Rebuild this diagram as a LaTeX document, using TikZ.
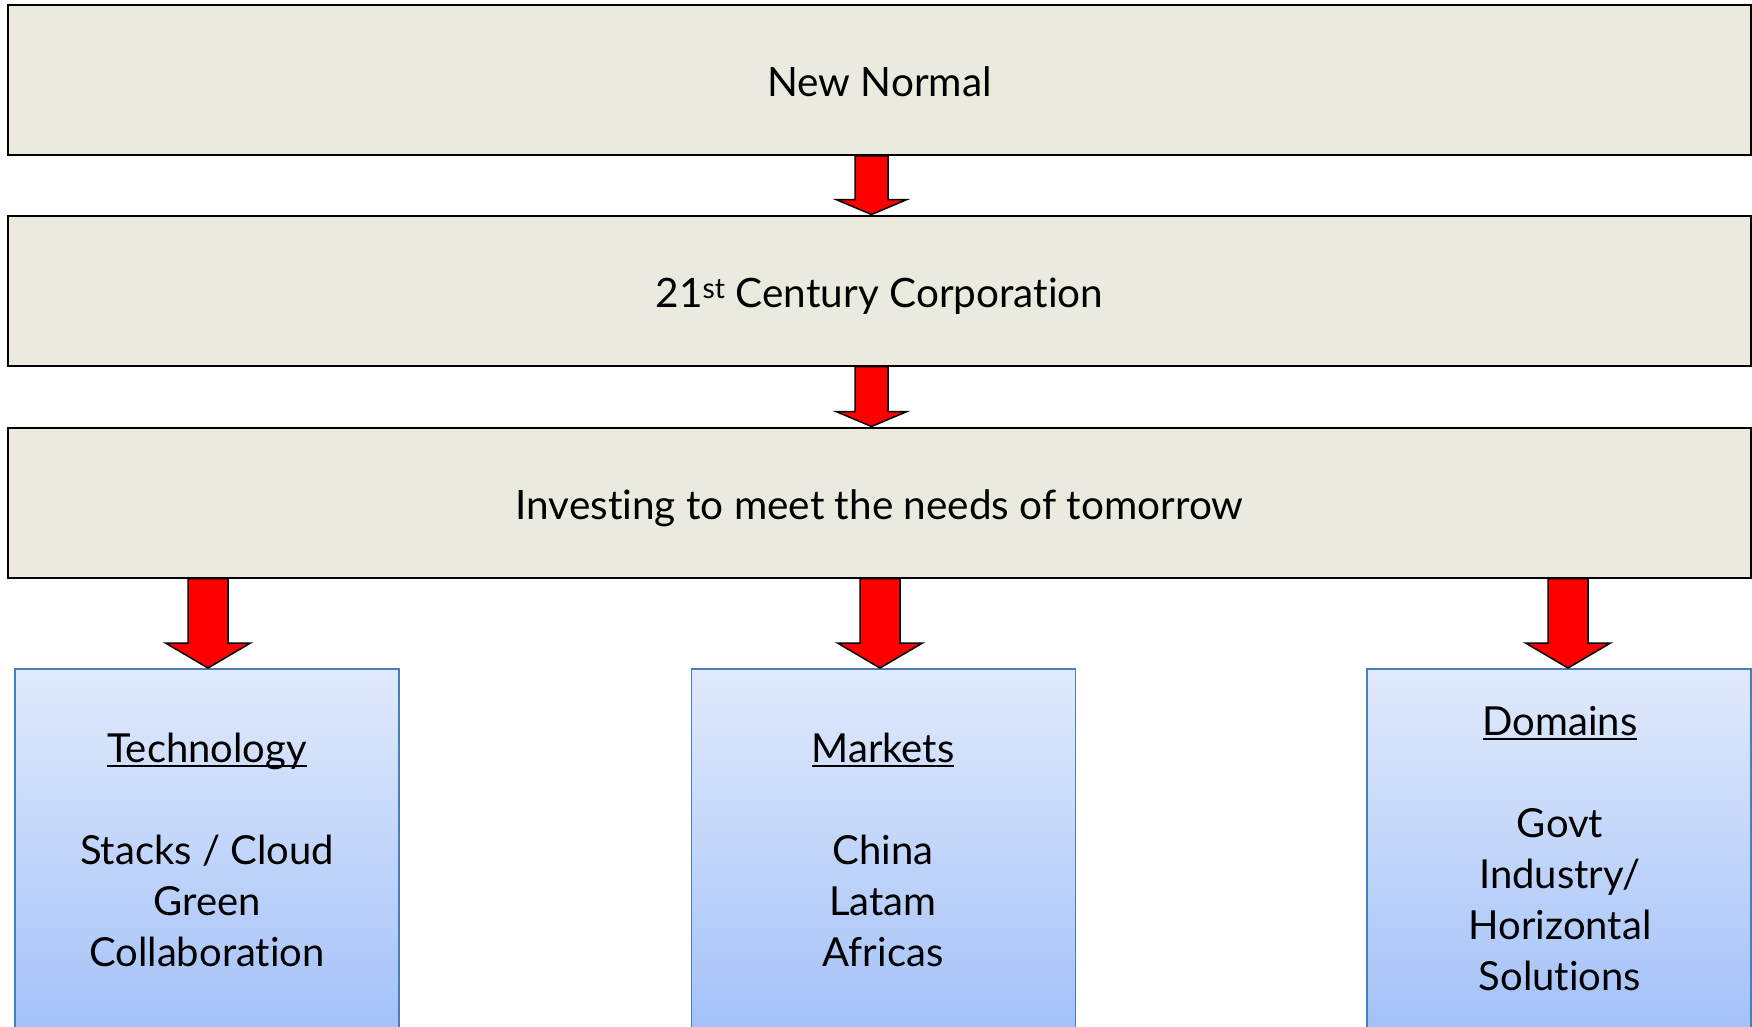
\documentclass[tikz,border=0pt]{standalone}
\usepackage{fontspec}
\setmainfont{Lato}[RawFeature=-liga]
\usetikzlibrary{calc}
\definecolor{beige}{RGB}{236,234,223}
\definecolor{boxblue}{RGB}{74,126,187}
\definecolor{lighttop}{RGB}{225,234,252}
\definecolor{darkbot}{RGB}{158,190,248}
\newcommand\undl[1]{\leavevmode\setbox0\hbox{#1}\rlap{\rule[-5pt]{\wd0}{2pt}}\box0}
\newcommand\blkarrow[6]{% #1 from, #2 to, #3 x, #4 half shaft, #5 half head, #6 head length
  \draw[redarrow] let \p1=(#1.south), \p2=(#2.north) in
  ({#3pt-#4pt},\y1) -- ({#3pt+#4pt},\y1) -- ({#3pt+#4pt},{\y2+#6pt}) -- ({#3pt+#5pt},{\y2+#6pt})
  -- (#3pt,\y2) -- ({#3pt-#5pt},{\y2+#6pt}) -- ({#3pt-#4pt},{\y2+#6pt}) -- cycle;}
\tikzset{
  topbox/.style={draw=black, line width=2pt, fill=beige, minimum width=1743pt, minimum height=150pt,
    inner sep=0pt, font=\fontsize{40.5}{48}\selectfont, text height=34pt, text depth=0pt},
  botbox/.style={draw=boxblue, line width=1.8pt, top color=lighttop, bottom color=darkbot,
    minimum width=384pt, minimum height=390pt, anchor=north, inner sep=0pt},
  bottext/.style={font=\fontsize{40}{51}\selectfont, align=center, anchor=base, inner sep=0pt},
  redarrow/.style={draw=black, line width=1.5pt, fill=red, line join=miter}
}
\begin{document}
\begin{tikzpicture}[x=1pt,y=-1pt]
\useasboundingbox (0,0) rectangle (1752,1027);
\clip (0,0) rectangle (1752,1027);
\fill[white] (0,0) rectangle (1752,1027);
\node[topbox] (nn) at (879.5,80) {New Normal};
\node[topbox] (cc) at (879.5,290.5) {21\textsuperscript{st} Century Corporation};
\node[topbox] (inv) at (879.5,502.5) {Investing to meet the needs of tomorrow};
\node[botbox] (tech) at (207,668) {};
\node[botbox] (mkt) at (883.5,668) {};
\node[botbox] (dom) at (1559,668) {};
\blkarrow{nn}{cc}{871.5}{16.5}{35.5}{15}
\blkarrow{cc}{inv}{871.5}{16.5}{35.5}{15}
\blkarrow{inv}{tech}{208}{20}{42.5}{25}
\blkarrow{inv}{mkt}{880}{20}{42.5}{25}
\blkarrow{inv}{dom}{1568}{20}{42.5}{25}
\node[bottext] (techtxt) at (207,966) {\undl{Technology}\\[51pt]Stacks / Cloud\\Green\\Collaboration};
\node[bottext] (mkttxt) at (883,966) {\undl{Markets}\\[51pt]China\\Latam\\Africas};
\node[bottext] (domtxt) at (1560,990) {\undl{Domains}\\[51pt]Govt\\Industry/\\Horizontal\\Solutions};
\end{tikzpicture}
\end{document}
